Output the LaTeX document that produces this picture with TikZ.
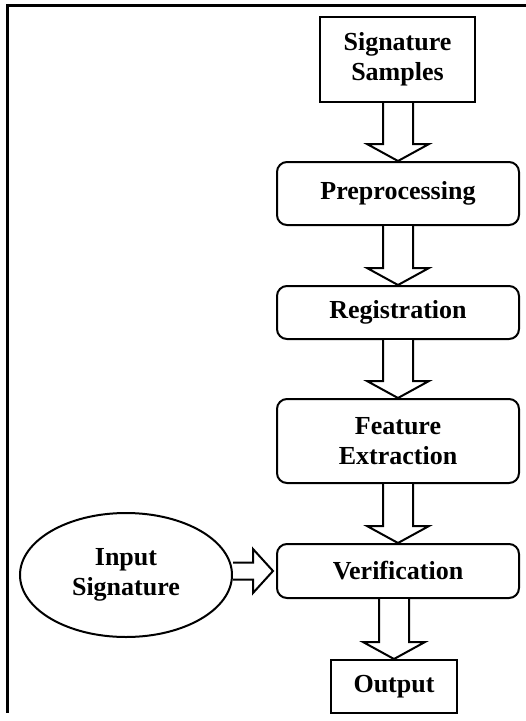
\documentclass[tikz,border=0pt]{standalone}
\usepackage{fontspec}
\setmainfont{Liberation Serif}
\usetikzlibrary{shapes.geometric,calc}
\tikzset{
  base/.style={draw, line width=2pt, align=center, inner sep=0pt,
    font=\fontsize{26}{30}\selectfont\bfseries},
  sqbox/.style={base, rectangle},
  rbox/.style={base, rectangle, rounded corners=10pt, minimum width=242pt},
  ellbox/.style={base, ellipse, minimum width=212pt, minimum height=124pt},
  blk/.style={draw, line width=2pt, line join=miter, fill=white},
  frame/.style={draw, line width=3pt}
}
\newcommand\vblk[2]{%
  \draw[blk] (#1.south -| #2.north) ++(-15,0) coordinate (s1)
    -- ($(#2.north)+(-15,-17)$) -- ($(#2.north)+(-31,-17)$) -- (#2.north)
    -- ($(#2.north)+(31,-17)$) -- ($(#2.north)+(15,-17)$)
    -- ($(#1.south -| #2.north)+(15,0)$);}
\begin{document}
\begin{tikzpicture}[x=1pt,y=-1pt]
\useasboundingbox (0,0) rectangle (526,721);
\coordinate (ftl) at (7,5);
\coordinate (ftr) at (526,5);
\coordinate (fbl) at (7,713);
\draw[frame] (ftr) -- (ftl) -- (fbl);

\node[sqbox, minimum width=155pt, minimum height=85pt] (samples) at (397.5,59.5) {Signature\\Samples};
\node[rbox, minimum height=63pt] (pre) at (398,193.5) {Preprocessing};
\node[rbox, minimum height=53pt] (reg) at (398,312.5) {Registration};
\node[rbox, minimum height=84pt] (feat) at (398,441) {Feature\\Extraction};
\node[rbox, minimum height=54pt] (ver) at (398,571) {Verification};
\node[sqbox, minimum width=126pt, minimum height=53pt] (out) at (394,686.5) {Output};
\node[ellbox] (inp) at (126,575) {Input\\Signature};

\vblk{samples}{pre}
\vblk{pre}{reg}
\vblk{reg}{feat}
\vblk{feat}{ver}
\vblk{ver}{out}

\draw[blk] (inp.east |- ver.west) ++(0,-8.5)
  -- ($(ver.west)+(-23,-8.5)$) -- ($(ver.west)+(-23,-22)$) -- ($(ver.west)+(-3,0)$)
  -- ($(ver.west)+(-23,22)$) -- ($(ver.west)+(-23,8.5)$)
  -- ($(inp.east |- ver.west)+(0,8.5)$);
\end{tikzpicture}
\end{document}
